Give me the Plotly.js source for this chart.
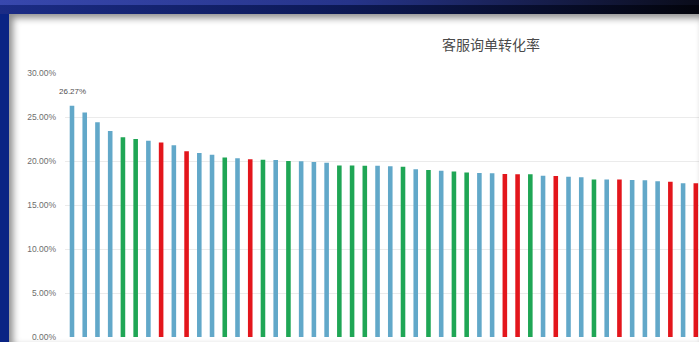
<!DOCTYPE html>
<html>
<head>
<meta charset="utf-8">
<script src="https://cdn.plot.ly/plotly-3.0.1.min.js"></script>
<style>
  html, body { margin:0; padding:0; width:699px; height:342px; overflow:hidden; background:#0a2484; }
  #topband { position:absolute; left:0; top:0; width:699px; height:14px;
    background: linear-gradient(to right, #1b2c86 0%, #0d1a5a 45%, #03040c 100%); }
  #topband:before { content:""; position:absolute; left:0; top:0; width:100%; height:5px;
    background: linear-gradient(to right, #3848ae 0%, #26348a 50%, #0a0c1a 100%); }
  #chart { position:absolute; left:9px; top:14px; width:690px; height:328px; }
  #shade { position:absolute; left:9px; top:14px; width:690px; height:328px; pointer-events:none;
    box-shadow: inset 4px 4px 7px rgba(0,0,0,0.45); }
</style>
</head>
<body>
<div id="topband"></div>
<div id="chart"></div>
<div id="shade"></div>
<script>
// ---- data ----
const categories = [
  "客服01","客服02","客服03","客服04","客服05","客服06","客服07","客服08","客服09","客服10",
  "客服11","客服12","客服13","客服14","客服15","客服16","客服17","客服18","客服19","客服20",
  "客服21","客服22","客服23","客服24","客服25","客服26","客服27","客服28","客服29","客服30",
  "客服31","客服32","客服33","客服34","客服35","客服36","客服37","客服38","客服39","客服40",
  "客服41","客服42","客服43","客服44","客服45","客服46","客服47","客服48","客服49","客服50"
];
const conversionRate = [
  26.27, 25.50, 24.40, 23.40, 22.70, 22.50, 22.30, 22.10, 21.80, 21.10,
  20.90, 20.70, 20.40, 20.30, 20.20, 20.15, 20.10, 20.00, 19.97, 19.90,
  19.80, 19.50, 19.50, 19.45, 19.45, 19.40, 19.35, 19.05, 18.98, 18.90,
  18.80, 18.70, 18.64, 18.60, 18.52, 18.50, 18.50, 18.33, 18.30, 18.20,
  18.15, 17.90, 17.90, 17.90, 17.84, 17.80, 17.70, 17.65, 17.47, 17.47
];
const team = [
  "A","A","A","A","B","B","A","C","A","C",
  "A","A","B","A","C","B","A","B","A","A",
  "A","B","B","B","A","A","B","A","B","A",
  "B","B","A","A","C","C","B","A","C","A",
  "A","B","A","C","A","A","A","C","A","C"
];
const chartTitle = "客服询单转化率";

// ---- styles ----
const teamColor = { A: "#62a8c9", B: "#1fa655", C: "#e3161c" };

const trace = {
  type: "bar",
  x: categories,
  y: conversionRate,
  marker: { color: team.map(t => teamColor[t]), line: { width: 0 } },
  hoverinfo: "x+y"
};

const n = categories.length;
const layout = {
  width: 690, height: 328,
  margin: { l: 56, r: 0, t: 59, b: 5, pad: 0 },
  paper_bgcolor: "#ffffff",
  plot_bgcolor: "#ffffff",
  bargap: 0.64,
  showlegend: false,
  title: {
    text: chartTitle,
    font: { family: "Noto Sans CJK SC, sans-serif", size: 14, color: "#4a4a4a" },
    x: 0.672, xanchor: "center", xref: "paper",
    y: 0.905, yanchor: "middle", yref: "container"
  },
  xaxis: {
    type: "category",
    range: [-0.55, n - 0.75],
    showticklabels: false,
    showgrid: false,
    zeroline: false,
    showline: false,
    ticks: ""
  },
  yaxis: {
    range: [0, 30],
    dtick: 5,
    tickformat: ".2f",
    ticksuffix: "%",
    showgrid: true,
    gridcolor: "#ebebeb",
    gridwidth: 1,
    zeroline: false,
    showline: false,
    ticks: "",
    ticklabelstandoff: 8,
    tickfont: { family: "Liberation Sans, Arial, sans-serif", size: 8.5, color: "#6e6e6e" }
  },
  annotations: [{
    x: categories[0], y: conversionRate[0],
    xref: "x", yref: "y",
    text: conversionRate[0].toFixed(2) + "%",
    showarrow: false,
    yanchor: "bottom",
    yshift: 8,
    font: { family: "Liberation Sans, Arial, sans-serif", size: 8, color: "#505050" }
  }]
};

Plotly.newPlot("chart", [trace], layout, { displayModeBar: false, staticPlot: true });
</script>
</body>
</html>
